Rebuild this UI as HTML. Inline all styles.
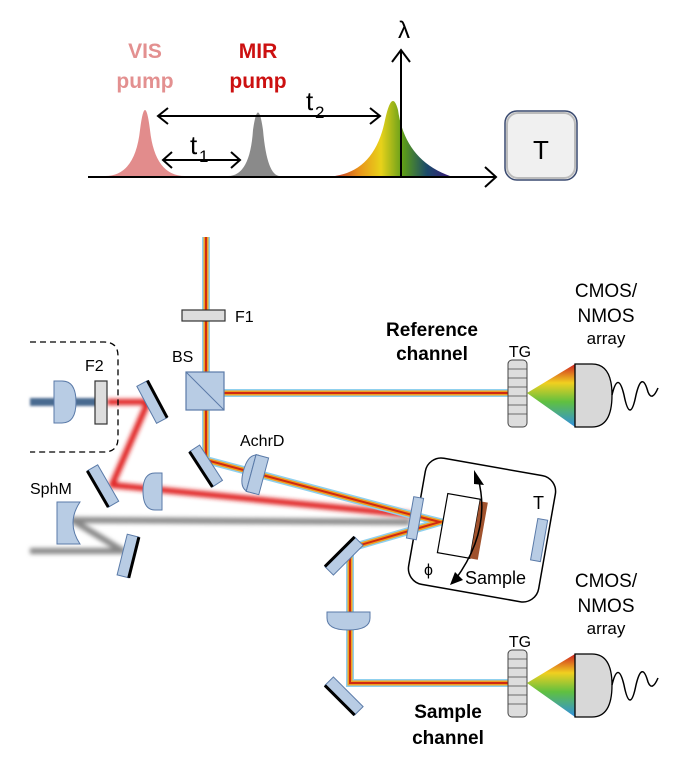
<!DOCTYPE html>
<html><head><meta charset="utf-8"><style>
html,body{margin:0;padding:0;background:#fff;}
svg{display:block;}
text{font-family:"Liberation Sans","DejaVu Sans",sans-serif;}
</style></head><body>
<svg width="680" height="764" viewBox="0 0 680 764" xmlns="http://www.w3.org/2000/svg">
<defs>
<linearGradient id="spec" x1="0" x2="1" y1="0" y2="0">
<stop offset="0" stop-color="#c0392b"/><stop offset="0.2" stop-color="#e8901a"/><stop offset="0.4" stop-color="#e8d21a"/><stop offset="0.6" stop-color="#5a9a1a"/><stop offset="0.8" stop-color="#1a4a6a"/><stop offset="1" stop-color="#3a1a7a"/>
</linearGradient>
<linearGradient id="fan" x1="0" x2="0" y1="0" y2="1">
<stop offset="0" stop-color="#d02020"/><stop offset="0.3" stop-color="#f0d020"/><stop offset="0.6" stop-color="#60c040"/><stop offset="1" stop-color="#3090e0"/>
</linearGradient>
<filter id="blur" filterUnits="userSpaceOnUse" x="0" y="0" width="680" height="764"><feGaussianBlur stdDeviation="2"/></filter>
<filter id="blur2" filterUnits="userSpaceOnUse" x="0" y="0" width="680" height="764"><feGaussianBlur stdDeviation="1.2"/></filter>
</defs>

<!-- top pulses -->
<path d="M105,176 Q135,176 140,130 Q145,90 150,130 Q155,176 185,176 Z" fill="#e28c8c"/>
<path d="M228,176 Q250,176 253,130 Q258,95 263,130 Q267,176 280,176 Z" fill="#8a8a8a"/>
<path d="M335,176 Q375,170 385,120 Q392,88 398,110 Q405,160 450,176 Z" fill="url(#spec)"/>
<text x="145" y="58" font-size="21" font-weight="bold" fill="#e39090" text-anchor="middle">VIS</text>
<text x="145" y="88" font-size="21" font-weight="bold" fill="#e39090" text-anchor="middle">pump</text>
<text x="258" y="58" font-size="21" font-weight="bold" fill="#cc1010" text-anchor="middle">MIR</text>
<text x="258" y="88" font-size="21" font-weight="bold" fill="#cc1010" text-anchor="middle">pump</text>
<!-- axes -->
<line x1="88" y1="177" x2="495" y2="177" stroke="#000" stroke-width="2"/>
<polyline points="485,167 496,177 485,187" fill="none" stroke="#000" stroke-width="2"/>
<line x1="401" y1="177" x2="401" y2="50" stroke="#000" stroke-width="2"/>
<polyline points="392,62 401,50 410,62" fill="none" stroke="#000" stroke-width="2"/>
<text x="404" y="38" font-size="24" text-anchor="middle" font-family="Liberation Serif,serif">λ</text>
<!-- t2 arrow -->
<line x1="158" y1="116" x2="380" y2="116" stroke="#000" stroke-width="2"/>
<polyline points="168,108 158,116 168,124" fill="none" stroke="#000" stroke-width="2"/>
<polyline points="370,108 380,116 370,124" fill="none" stroke="#000" stroke-width="2"/>
<text x="306" y="110" font-size="26">t</text><text x="315" y="118" font-size="17">2</text>
<!-- t1 arrow -->
<line x1="163" y1="160" x2="240" y2="160" stroke="#000" stroke-width="2"/>
<polyline points="172,152 163,160 172,168" fill="none" stroke="#000" stroke-width="2"/>
<polyline points="231,152 240,160 231,168" fill="none" stroke="#000" stroke-width="2"/>
<text x="190" y="154" font-size="26">t</text><text x="199" y="162" font-size="17">1</text>
<!-- T box -->
<rect x="505" y="111" width="72" height="69" rx="12" fill="#f0f0f0" stroke="#3a4a70" stroke-width="1.5"/>
<rect x="507" y="113" width="68" height="65" rx="11" fill="none" stroke="#bbb" stroke-width="2"/>
<text x="541" y="159" font-size="26" text-anchor="middle">T</text>

<!-- blue input beam -->
<rect x="30" y="398" width="70" height="8" fill="#4a6a90" filter="url(#blur2)"/>
<!-- red beam -->
<g fill="none" stroke="#e02020" stroke-width="6" filter="url(#blur)" stroke-linejoin="round">
<polyline points="107,402 148,402 112,485 412,515"/>
</g>
<!-- gray beam -->
<g fill="none" stroke="#888" stroke-width="6" filter="url(#blur)" stroke-linejoin="round">
<polyline points="30,551 123,551 72,520 410,522"/>
</g>

<!-- rainbow beams -->
<g fill="none" stroke-linejoin="miter">
<g stroke="#8fd0ee" stroke-width="8">
<polyline points="206,237 206,460 416,516 440,522 350,548 350,683 508,683"/>
<polyline points="224,393 508,393"/>
</g>
<g stroke="#f0a020" stroke-width="5">
<polyline points="206,237 206,460 416,516 440,522 350,548 350,683 508,683"/>
<polyline points="224,393 508,393"/>
</g>
<g stroke="#d02a10" stroke-width="2">
<polyline points="206,237 206,460 416,516 440,522 350,548 350,683 508,683"/>
<polyline points="224,393 508,393"/>
</g>
</g>

<!-- F1 -->
<rect x="182" y="310" width="43" height="11" fill="#ddd" stroke="#333" stroke-width="1.2"/>
<text x="235" y="322" font-size="16">F1</text>
<!-- BS -->
<rect x="186" y="372" width="38" height="38" fill="#b8cce4" stroke="#5a7aa8" stroke-width="1.2"/>
<line x1="186" y1="372" x2="224" y2="410" stroke="#5a7aa8"/>
<text x="172" y="362" font-size="16">BS</text>
<!-- dashed box -->
<path d="M30,342 H104 Q118,342 118,356 V438 Q118,452 104,452 H30" fill="none" stroke="#000" stroke-width="1.3" stroke-dasharray="6,4"/>
<text x="85" y="371" font-size="16">F2</text>
<path d="M54,381 H62 Q76,381 76,402 Q76,423 62,423 H54 Z" fill="#b8cce4" stroke="#5a7aa8"/>
<rect x="95" y="381" width="12" height="43" fill="#ddd" stroke="#333" stroke-width="1.2"/>
<!-- mirrors: black edge on side given by local x -->
<g transform="translate(152,402) rotate(-28)"><rect x="-6" y="-21" width="12" height="42" fill="#b8cce4" stroke="#5a7aa8"/><line x1="6" y1="-21" x2="6" y2="21" stroke="#000" stroke-width="3"/></g>
<g transform="translate(206,466) rotate(-33)"><rect x="-6" y="-21" width="12" height="42" fill="#b8cce4" stroke="#5a7aa8"/><line x1="-6" y1="-21" x2="-6" y2="21" stroke="#000" stroke-width="3"/></g>
<g transform="translate(103,486) rotate(-30)"><rect x="-6" y="-21" width="12" height="42" fill="#b8cce4" stroke="#5a7aa8"/><line x1="-6" y1="-21" x2="-6" y2="21" stroke="#000" stroke-width="3"/></g>
<g transform="translate(128,556) rotate(14)"><rect x="-6" y="-21" width="12" height="42" fill="#b8cce4" stroke="#5a7aa8"/><line x1="6" y1="-21" x2="6" y2="21" stroke="#000" stroke-width="3"/></g>
<g transform="translate(344,556) rotate(45)"><rect x="-6" y="-21" width="12" height="42" fill="#b8cce4" stroke="#5a7aa8"/><line x1="-6" y1="-21" x2="-6" y2="21" stroke="#000" stroke-width="3"/></g>
<g transform="translate(344,696) rotate(-45)"><rect x="-6" y="-21" width="12" height="42" fill="#b8cce4" stroke="#5a7aa8"/><line x1="-6" y1="-21" x2="-6" y2="21" stroke="#000" stroke-width="3"/></g>
<!-- lens red path -->
<path d="M162,473 V510 H155 Q143,510 143,491 Q143,473 155,473 Z" fill="#b8cce4" stroke="#5a7aa8"/>
<!-- AchrD -->
<g transform="translate(255,474) rotate(15)">
<path d="M-4,-19 V19 H-1 Q-12,19 -12,0 Q-12,-19 -1,-19 Z" fill="#b8cce4" stroke="#5a7aa8"/>
<rect x="-4" y="-19" width="13" height="38" fill="#b8cce4" stroke="#5a7aa8"/>
</g>
<text x="240" y="446" font-size="16">AchrD</text>
<!-- SphM -->
<path d="M57,502 H80 Q66,523 80,544 H57 Z" fill="#b8cce4" stroke="#5a7aa8"/>
<text x="30" y="494" font-size="16">SphM</text>
<!-- lens sample path -->
<path d="M327,612 H370 V618 Q370,630 348,630 Q327,630 327,618 Z" fill="#b8cce4" stroke="#5a7aa8"/>

<!-- sample chamber -->
<g transform="translate(482,530) rotate(10)">
<rect x="-66" y="-64" width="132" height="128" rx="16" fill="none" stroke="#000" stroke-width="1.5"/>
<rect x="-73" y="-21" width="10" height="42" fill="#b8cce4" stroke="#5a7aa8"/>
<rect x="53" y="-21" width="10" height="42" fill="#b8cce4" stroke="#5a7aa8"/>
<rect x="-40" y="-30" width="33" height="60" fill="#fff" stroke="#000" stroke-width="1.2"/>
<rect x="-7" y="-28" width="8" height="58" fill="#a0522d"/>
</g>
<path d="M478,478 Q492,530 455,580" fill="none" stroke="#000" stroke-width="1.5"/>
<polygon points="474,470 484,485 474,484" fill="#000"/>
<polygon points="450,585 455,572 463,580" fill="#000"/>
<text x="533" y="509" font-size="18">T</text>
<text x="424" y="575" font-size="16">ϕ</text>
<text x="465" y="584" font-size="18">Sample</text>

<!-- TG + detectors -->
<g id="det">
<rect x="508" y="360" width="19" height="67" rx="4" fill="#ddd" stroke="#444"/>
<g stroke="#444" stroke-width="0.8"><line x1="508" y1="369" x2="527" y2="369"/><line x1="508" y1="378" x2="527" y2="378"/><line x1="508" y1="387" x2="527" y2="387"/><line x1="508" y1="396" x2="527" y2="396"/><line x1="508" y1="405" x2="527" y2="405"/><line x1="508" y1="414" x2="527" y2="414"/></g>
<polygon points="527,393 575,364 575,427" fill="url(#fan)"/>
<path d="M575,364 H592 Q612,364 612,395 Q612,427 592,427 H575 Z" fill="#d8d8d8" stroke="#000" stroke-width="1.3"/>
<path d="M612,395 Q618,370 624,395 Q630,425 636,395 Q642,370 648,392 Q652,402 658,388" fill="none" stroke="#000" stroke-width="1.5"/>
</g>
<use href="#det" transform="translate(0,290)"/>
<text x="520" y="357" font-size="16" text-anchor="middle">TG</text>
<text x="520" y="647" font-size="16" text-anchor="middle">TG</text>
<g font-size="19" text-anchor="middle">
<text x="606" y="297">CMOS/</text><text x="606" y="322">NMOS</text><text x="606" y="344" font-size="17">array</text>
<text x="606" y="587">CMOS/</text><text x="606" y="612">NMOS</text><text x="606" y="634" font-size="17">array</text>
</g>
<g font-size="19" font-weight="bold" text-anchor="middle">
<text x="432" y="336">Reference</text><text x="432" y="360">channel</text>
<text x="448" y="718">Sample</text><text x="448" y="744">channel</text>
</g>
</svg>
</body></html>
